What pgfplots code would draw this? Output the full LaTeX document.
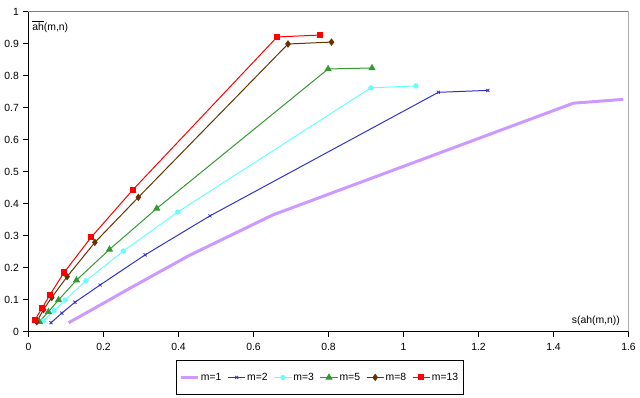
\documentclass[border=0pt]{standalone}
\usepackage{pgfplots}
\pgfplotsset{compat=1.18}
\usepackage{fontspec}
\setmainfont{Liberation Sans}
\definecolor{lav}{HTML}{CC99FF}
\definecolor{bl}{HTML}{3333CC}
\definecolor{cy}{HTML}{66FFFF}
\definecolor{gr}{HTML}{339933}
\definecolor{br}{HTML}{663300}
\definecolor{rd}{HTML}{FF0000}
\begin{document}
\begin{tikzpicture}
\useasboundingbox (0,0) rectangle (480pt,298.5pt);
\begin{axis}[
  at={(21.375pt,49.5pt)}, anchor=south west,
  scale only axis, width=450pt, height=240pt,
  xmin=0, xmax=1.6, ymin=0, ymax=1,
  xtick={0,0.2,...,1.6}, ytick={0,0.1,...,1.0},
  axis lines=left, axis line style={-, line width=0.75pt, black},
  tick align=outside, major tick length=3.75pt,
  tick style={line width=0.75pt, black},
  /pgf/number format/assume math mode=true,
  /pgf/number format/fixed,
  tick label style={font=\fontsize{7.8}{9}\selectfont},
  xticklabel style={yshift=-1pt},
  legend columns=6,
  legend style={at={(0.486,-0.142)}, anchor=center, draw=black, line width=0.75pt,
    font=\fontsize{7.8}{9}\selectfont, inner xsep=2pt, inner ysep=7pt,
    /tikz/every even column/.append style={column sep=2.5pt},
    /tikz/every odd column/.append style={column sep=-1pt}},
  legend image code/.code={\draw[#1] (0pt,0pt) -- (13pt,0pt); \draw[#1, only marks] plot coordinates {(6.5pt,0pt)};},
  every axis plot/.append style={line width=0.75pt},
]
\addplot[lav, line width=2.25pt, no marks] coordinates {(0.107,0.029)(0.15,0.057)(0.2,0.09)(0.28,0.143)(0.43,0.24)(0.652,0.366)(1.453,0.715)(1.586,0.727)};
\addlegendentry{m=1}
\addplot[bl, mark=x, mark size=1.6pt, mark options={line width=0.6pt}] coordinates {(0.06,0.029)(0.089,0.059)(0.124,0.093)(0.191,0.147)(0.311,0.241)(0.484,0.363)(1.093,0.749)(1.225,0.755)};
\addlegendentry{m=2}
\addplot[cy, mark=*, mark size=1.6pt] coordinates {(0.040,0.035)(0.068,0.067)(0.098,0.100)(0.153,0.160)(0.253,0.253)(0.398,0.375)(0.913,0.763)(1.033,0.769)};
\addlegendentry{m=3}
\addplot[gr, mark=triangle*, mark size=2.4pt] coordinates {(0.029,0.032)(0.053,0.063)(0.080,0.100)(0.128,0.162)(0.216,0.258)(0.342,0.386)(0.799,0.822)(0.916,0.825)};
\addlegendentry{m=5}
\addplot[br, mark=diamond*, mark size=2.2pt] coordinates {(0.022,0.032)(0.040,0.070)(0.062,0.108)(0.103,0.173)(0.177,0.280)(0.293,0.421)(0.692,0.900)(0.808,0.906)};
\addlegendentry{m=8}
\addplot[rd, mark=square*, mark size=1.9pt] coordinates {(0.017,0.0375)(0.037,0.076)(0.057,0.116)(0.095,0.186)(0.167,0.296)(0.278,0.444)(0.663,0.922)(0.778,0.928)};
\addlegendentry{m=13}
\draw[gray, line width=0.75pt] (rel axis cs:0,1) -- (rel axis cs:1,1) -- (rel axis cs:1,0);
\node[anchor=north west, inner sep=0pt, font=\fontsize{7.8}{9}\selectfont] at (rel axis cs:0.006,0.975) {$\overline{\mbox{ah}}$(m,n)};
\node[anchor=east, inner sep=0pt, font=\fontsize{7.8}{9}\selectfont] at (rel axis cs:0.986,0.036) {s(ah(m,n))};
\end{axis}
\end{tikzpicture}
\end{document}
